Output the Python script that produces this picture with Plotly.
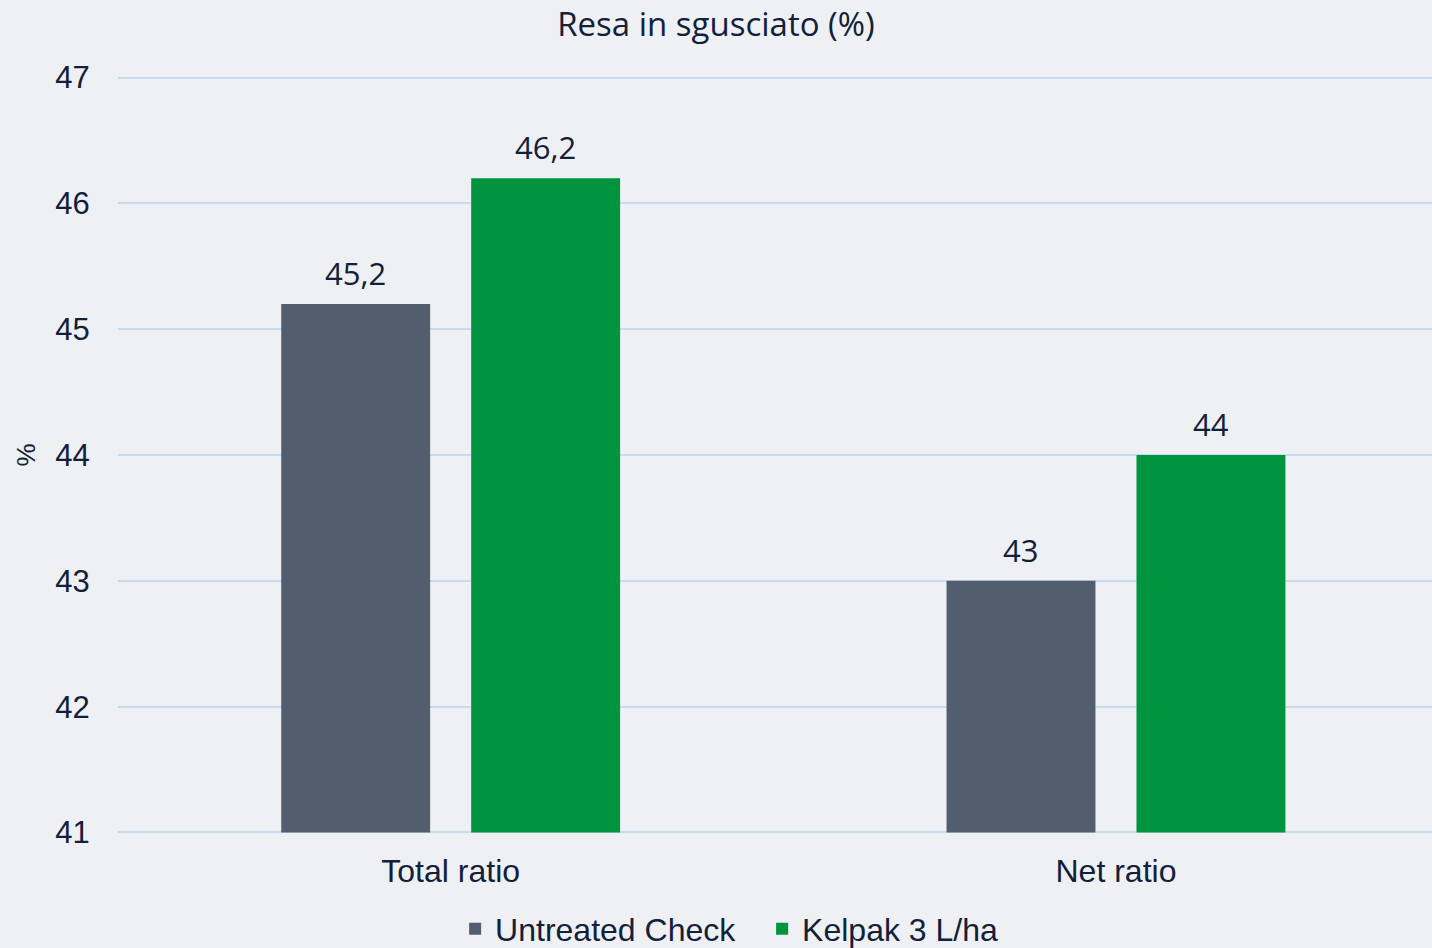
import plotly.graph_objects as go

categories = ["Total ratio", "Net ratio"]
untreated = [45.2, 43.0]
kelpak = [46.2, 44.0]
untreated_labels = ["45,2", "43"]
kelpak_labels = ["46,2", "44"]
series_names = ["Untreated Check", "Kelpak 3 L/ha"]
y_ticks = [41, 42, 43, 44, 45, 46, 47]
axis_min = 41

TEXT = "#13203A"
BG = "#EEF0F3"
GRID = "#C9DBF1"
GRAY = "#525E6E"
GREEN = "#00943F"
LABEL_FONT = "'Open Sans', Lato, sans-serif"
AXIS_FONT = "'Liberation Sans', Arial, sans-serif"

fig = go.Figure()
fig.add_trace(go.Bar(
    name=series_names[0], x=categories, y=[v - axis_min for v in untreated], base=axis_min,
    marker=dict(color=GRAY, line=dict(width=0)),
))
fig.add_trace(go.Bar(
    name=series_names[1], x=categories, y=[v - axis_min for v in kelpak], base=axis_min,
    marker=dict(color=GREEN, line=dict(width=0)),
))

for vals, labels, shift in ((untreated, untreated_labels, -95), (kelpak, kelpak_labels, 95)):
    for c, v, t in zip(categories, vals, labels):
        fig.add_annotation(x=c, y=v, text=t, showarrow=False, xshift=shift,
                           yanchor="bottom", yshift=8,
                           font=dict(family=LABEL_FONT, size=31, color=TEXT))

fig.update_layout(
    width=1432, height=948,
    paper_bgcolor=BG, plot_bgcolor=BG,
    margin=dict(l=118, r=0, t=75, b=113, autoexpand=False),
    barmode="group", bargap=0.429, bargroupgap=0.216,
    title=dict(text="Resa in sgusciato (%)", x=0.5, xanchor="center",
               yref="container", y=1 - 24 / 948, yanchor="middle",
               font=dict(family=LABEL_FONT, size=33, color=TEXT)),
    legend=dict(orientation="h", x=0.4902, xanchor="center",
                yref="container", y=1 - 929 / 948, yanchor="middle",
                entrywidth=262, entrywidthmode="pixels",
                font=dict(family=AXIS_FONT, size=32, color=TEXT), bgcolor="rgba(0,0,0,0)",
                tracegroupgap=0),
    showlegend=True,
)
fig.update_xaxes(
    range=[-0.5, 1.475], showgrid=False, zeroline=False, showline=False,
    ticks="outside", ticklen=8, tickcolor="rgba(0,0,0,0)",
    tickfont=dict(family=AXIS_FONT, size=32, color=TEXT),
)
fig.update_yaxes(
    range=[40.98, 47.02], tickvals=y_ticks, showgrid=True, gridcolor=GRID, gridwidth=2,
    zeroline=False, showline=False,
    ticks="outside", ticklen=21, tickcolor="rgba(0,0,0,0)",
    tickfont=dict(family=AXIS_FONT, size=31, color=TEXT),
    title=dict(text="%", font=dict(family=AXIS_FONT, size=26, color=TEXT), standoff=12),
)

fig.write_html("out.html", config=dict(displayModeBar=False),
               post_script="document.body.style.margin='0';document.body.style.overflow='hidden';")
